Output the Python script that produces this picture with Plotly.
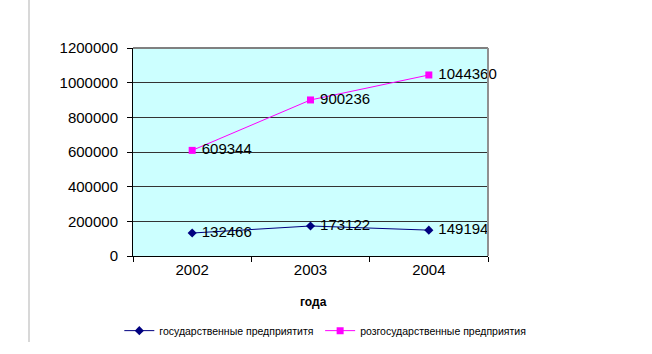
import plotly.graph_objects as go

years = ["2002", "2003", "2004"]
state = [132466, 173122, 149194]
nonstate = [609344, 900236, 1044360]
y_ticks = [0, 200000, 400000, 600000, 800000, 1000000, 1200000]
name_state = "государственные предприятитя"
name_nonstate = "розгосударственные предприятия"
x_title = "года"

FONT = "Liberation Sans, Arial, sans-serif"

fig = go.Figure()
fig.add_trace(go.Scatter(
    x=years, y=state, name=name_state, mode="lines+markers+text",
    line=dict(color="#000080", width=1),
    marker=dict(symbol="diamond", size=7, color="#000080"),
    text=[" " + str(v) for v in state], textposition="middle right",
    textfont=dict(family=FONT, size=15, color="black"),
    cliponaxis=False, legend="legend",
))
fig.add_trace(go.Scatter(
    x=years, y=nonstate, name=name_nonstate, mode="lines+markers+text",
    line=dict(color="#FF00FF", width=1),
    marker=dict(symbol="square", size=7, color="#FF00FF"),
    text=[" " + str(v) for v in nonstate], textposition="middle right",
    textfont=dict(family=FONT, size=15, color="black"),
    cliponaxis=False, legend="legend2",
))

leg_common = dict(orientation="h", xref="container", yref="container",
                  xanchor="left", yanchor="middle", y=0.066,
                  font=dict(size=10.5, family=FONT), bgcolor="rgba(0,0,0,0)",
                  borderwidth=0)

fig.update_layout(
    width=652, height=354,
    margin=dict(l=133, r=164, t=48, b=98, autoexpand=False),
    paper_bgcolor="white", plot_bgcolor="#CCFFFF",
    font=dict(family=FONT, color="black"),
    showlegend=True,
    legend=dict(leg_common, x=0.183),
    legend2=dict(leg_common, x=0.491),
    xaxis=dict(type="category", range=[-0.5, 2.5], tickson="boundaries",
               ticks="outside", ticklen=5, tickcolor="black",
               showline=True, linecolor="black", linewidth=1,
               showgrid=False, tickfont=dict(size=15), fixedrange=True),
    yaxis=dict(range=[0, 1200000], tickvals=y_ticks, ticktext=[str(v) for v in y_ticks],
               ticks="outside", ticklen=5, tickcolor="black",
               showline=True, linecolor="black", linewidth=1,
               showgrid=True, gridcolor="#333333", gridwidth=1,
               zeroline=False, tickfont=dict(size=15), ticklabelstandoff=6,
               fixedrange=True),
    annotations=[dict(text="<b>" + x_title + "</b>", xref="paper", yref="paper",
                      x=0.508, y=-0.22, xanchor="center", yanchor="middle",
                      showarrow=False, font=dict(size=12, family=FONT))],
    shapes=[
        dict(type="line", xref="paper", yref="paper", x0=0, x1=1, y0=1, y1=1,
             line=dict(color="#808080", width=2)),
        dict(type="line", xref="paper", yref="paper", x0=1, x1=1, y0=0, y1=1,
             line=dict(color="#909090", width=2)),
        dict(type="line", xref="paper", yref="paper", x0=-0.293, x1=-0.293, y0=1.231, y1=-0.413,
             line=dict(color="#d8d8d8", width=2)),
    ],
)

fig.write_html("out.html")
